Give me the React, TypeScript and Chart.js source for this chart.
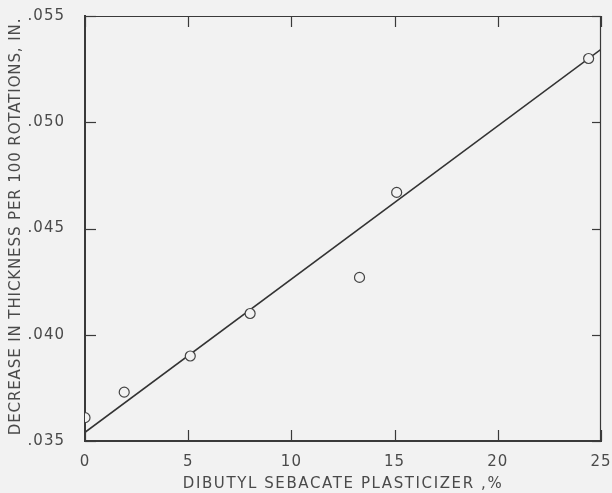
import React, { useEffect, useRef } from "react";
import { Chart, registerables } from "chart.js";

Chart.register(...registerables);

// Data
const plasticizerPct = [0, 1.9, 5.1, 8.0, 13.3, 15.1, 24.4];
const thicknessDecrease = [0.0361, 0.0373, 0.039, 0.041, 0.0427, 0.0467, 0.053];
const fitLineX = [0, 25];
const fitLineY = [0.03541, 0.05343];
const xTickValues = [0, 5, 10, 15, 20, 25];
const yTickValues = [0.035, 0.04, 0.045, 0.05, 0.055];
const xTitle = "DIBUTYL SEBACATE PLASTICIZER ,%";
const yTitle = "DECREASE IN THICKNESS PER 100 ROTATIONS, IN.";

const BG = "#f2f2f2";
const INK = "#3a3a3a";
const TEXT = "#4a4a4a";
const FONT = "DejaVu Sans";

const framePlugin = {
  id: "frame",
  beforeDraw(chart: any) {
    const ctx = chart.ctx;
    ctx.save();
    ctx.fillStyle = BG;
    ctx.fillRect(0, 0, chart.width, chart.height);
    ctx.restore();
    (ctx as any).letterSpacing = "1px";
  },
  afterDraw(chart: any) {
    const ctx = chart.ctx;
    const { left, right, top, bottom } = chart.chartArea;
    const xs = chart.scales.x;
    const ys = chart.scales.y;
    const len = 11;
    ctx.save();
    ctx.strokeStyle = INK;
    ctx.lineWidth = 1.2;
    const seg = (x1: number, y1: number, x2: number, y2: number) => {
      ctx.beginPath();
      ctx.moveTo(x1, y1);
      ctx.lineTo(x2, y2);
      ctx.stroke();
    };
    seg(left, top + 0.5, right, top + 0.5);
    seg(right - 0.5, top, right - 0.5, bottom);
    for (const v of xTickValues) {
      const px = Math.round(xs.getPixelForValue(v)) + 0.5;
      seg(px, bottom, px, bottom - len);
      seg(px, top, px, top + len);
    }
    for (const v of yTickValues) {
      const py = Math.round(ys.getPixelForValue(v)) + 0.5;
      seg(left, py, left + len, py);
      seg(right, py, right - len + 2, py);
    }
    ctx.restore();

    // axis titles
    ctx.save();
    ctx.fillStyle = TEXT;
    ctx.font = `15px "${FONT}"`;
    ctx.textAlign = "center";
    ctx.textBaseline = "middle";
    (ctx as any).letterSpacing = "1.6px";
    ctx.fillText(xTitle, (left + right) / 2, 484);
    ctx.translate(16, (top + bottom) / 2 - 2);
    ctx.rotate(-Math.PI / 2);
    (ctx as any).letterSpacing = "0.9px";
    ctx.fillText(yTitle, 0, 0);
    ctx.restore();
  },
};

export default function App() {
  const ref = useRef<HTMLCanvasElement | null>(null);

  useEffect(() => {
    if (!ref.current) return;
    const chart = new Chart(ref.current, {
      type: "scatter",
      data: {
        datasets: [
          {
            label: "points",
            data: plasticizerPct.map((x, i) => ({ x, y: thicknessDecrease[i] })),
            showLine: false,
            pointStyle: "circle",
            pointRadius: 5,
            pointBorderWidth: 1.2,
            pointBorderColor: "#444",
            pointBackgroundColor: BG,
            order: 0,
          },
          {
            label: "fit",
            data: fitLineX.map((x, i) => ({ x, y: fitLineY[i] })),
            showLine: true,
            borderColor: "#333",
            borderWidth: 1.6,
            pointRadius: 0,
            order: 1,
          },
        ],
      },
      options: {
        animation: false,
        responsive: false,
        layout: { padding: { top: 16, right: 11, left: 0, bottom: 0 } },
        plugins: { legend: { display: false }, tooltip: { enabled: false } },
        scales: {
          x: {
            type: "linear",
            min: 0,
            max: 25,
            afterBuildTicks: (s: any) => {
              s.ticks = xTickValues.map((v) => ({ value: v }));
            },
            afterFit: (s: any) => {
              s.height = 52;
              s.paddingLeft = 0;
              s.paddingRight = 0;
            },
            grid: { display: false },
            border: { display: true, color: INK, width: 2 },
            ticks: {
              color: TEXT,
              padding: 4,
              font: { family: FONT, size: 15 },
              callback: (v: any) => String(v),
            },
            title: { display: false },
          },
          y: {
            type: "linear",
            min: 0.035,
            max: 0.055,
            afterBuildTicks: (s: any) => {
              s.ticks = yTickValues.map((v) => ({ value: v }));
            },
            afterFit: (s: any) => {
              s.width = 85;
              s.paddingTop = 0;
              s.paddingBottom = 0;
            },
            grid: { display: false },
            border: { display: true, color: INK, width: 2 },
            ticks: {
              color: TEXT,
              padding: 12,
              font: { family: FONT, size: 15 },
              callback: (v: any) => Number(v).toFixed(3).replace(/^0/, ""),
            },
            title: { display: false },
          },
        },
      },
      plugins: [framePlugin],
    });
    return () => chart.destroy();
  }, []);

  return (
    <div style={{ position: "absolute", left: 0, top: 0, width: 612, height: 493, background: BG }}>
      <canvas ref={ref} width={612} height={493} />
    </div>
  );
}
